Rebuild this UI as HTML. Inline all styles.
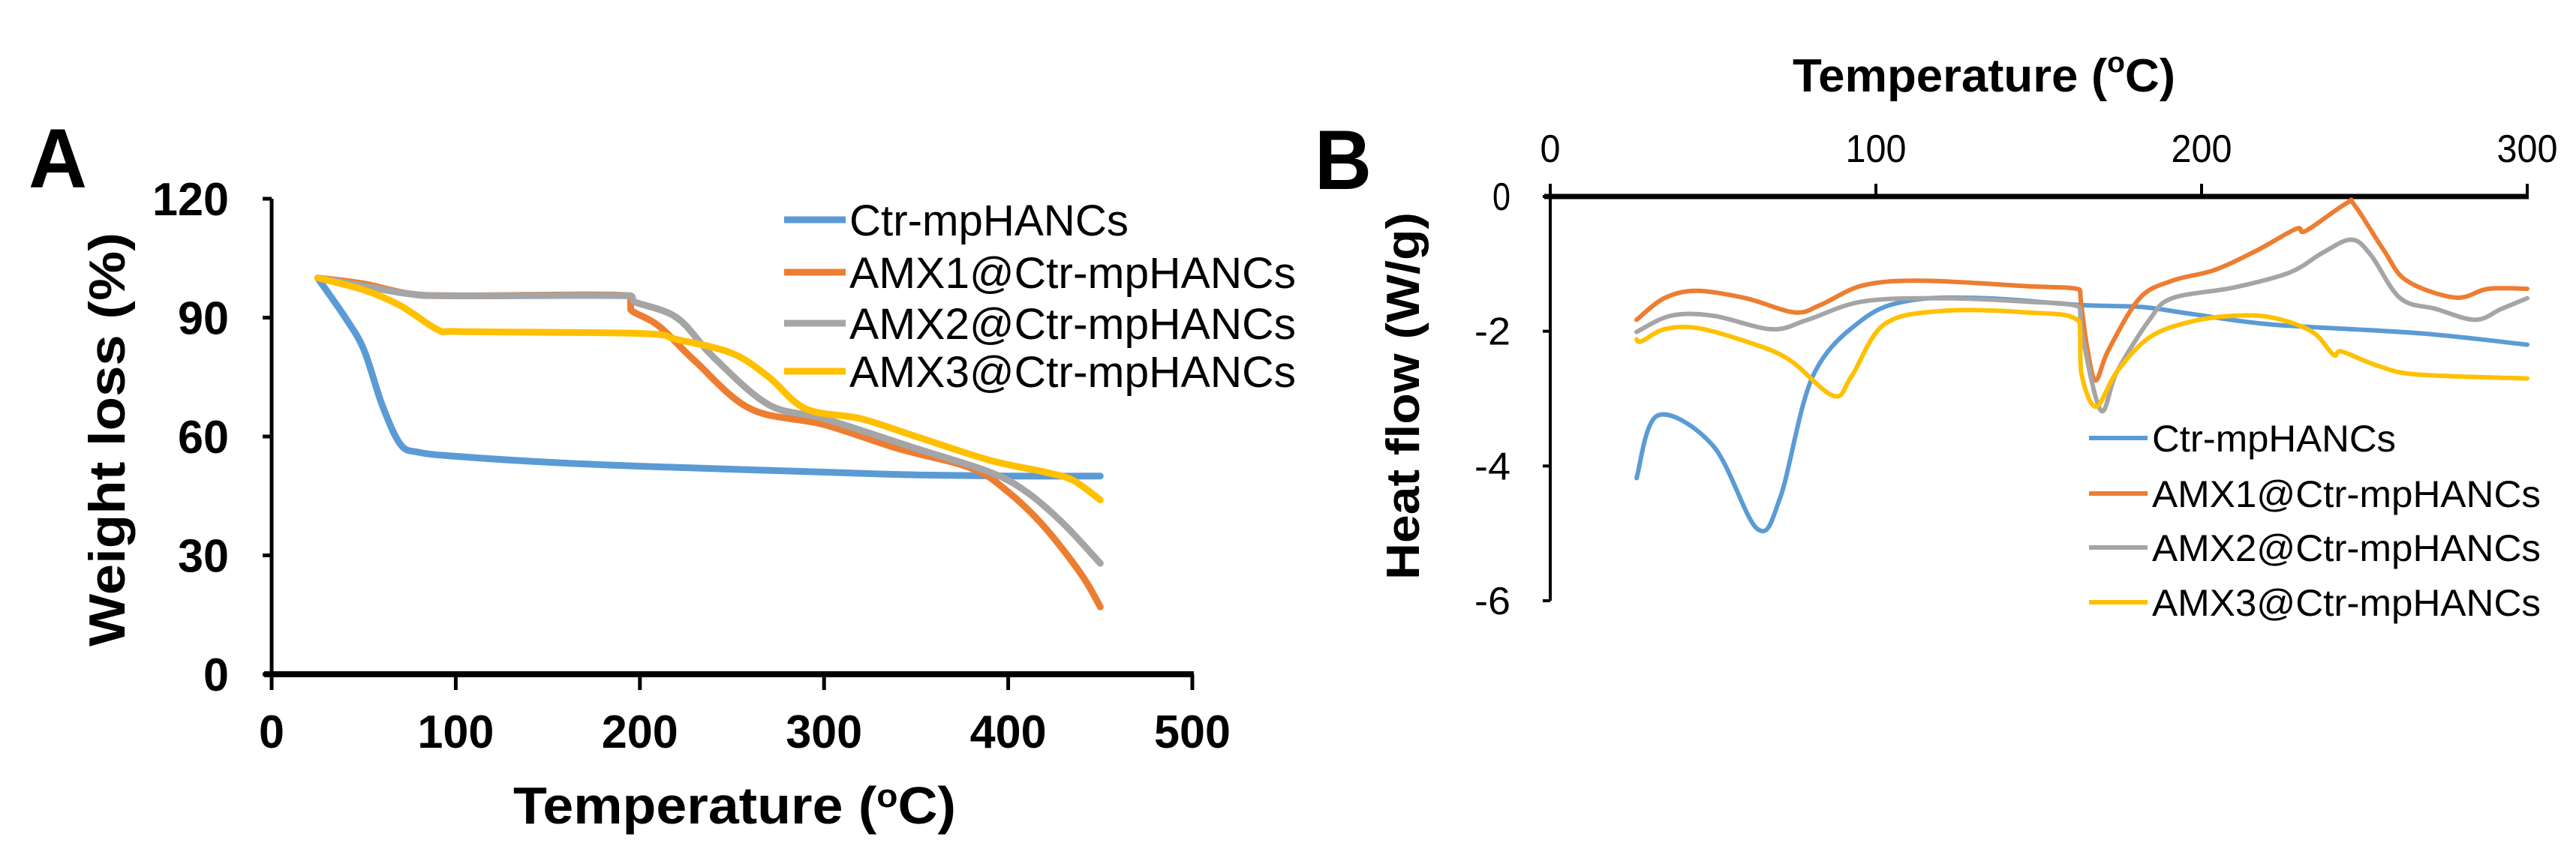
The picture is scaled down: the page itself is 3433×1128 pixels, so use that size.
<!DOCTYPE html>
<html><head><meta charset="utf-8"><style>
html,body{margin:0;padding:0;background:#fff;}
svg{display:block;}
</style></head><body>
<svg id="fig" width="3433" height="1128" viewBox="0 0 3433 1128" xmlns="http://www.w3.org/2000/svg" font-family="Liberation Sans, sans-serif">
<g id="panelA"></g>
<g id="panelB"></g>
</svg>
<script>
// ---------- Panel A data (TGA) ----------
const aXTicks = [0,100,200,300,400,500];
const aYTicks = [0,30,60,90,120];
const aSeriesNames = ["Ctr-mpHANCs","AMX1@Ctr-mpHANCs","AMX2@Ctr-mpHANCs","AMX3@Ctr-mpHANCs"];
const aCtrT = [25,40,50,60,70,80,100,150,200,300,350,400,450];
const aCtrW = [100,90,82,68,58,56,55,53.5,52.5,51,50.3,50,50];
const aAmx1T = [25,50,75,100,195,195,210,230,260,300,340,380,400,420,440,450];
const aAmx1W = [100,98.5,96,95.5,95.5,92,88,79,67,63,57,52,46,37,25,17];
const aAmx2T = [25,50,75,100,195,197,220,240,270,300,350,390,410,430,450];
const aAmx2W = [100,98,96,95.5,95.5,94,90,80,68,64.5,57,51,46,38,28];
const aAmx3T = [25,50,70,90,100,200,220,250,270,290,320,350,390,420,435,450];
const aAmx3W = [100,97,93,87,86.5,86,84.5,81,75,67,64.5,60,54,51,49,44];
// ---------- Panel B data (DSC) ----------
const bXTicks = [0,100,200,300];
const bYTicks = [0,-2,-4,-6];
const bCtrT = [26.5,33,50,63.5,70.6,80.6,95.8,110.9,133.6,162.5,181.5,196.5,221.7,267,300];
const bCtrH = [-4.18,-3.25,-3.7,-4.93,-4.47,-2.67,-1.83,-1.54,-1.51,-1.61,-1.64,-1.74,-1.9,-2.03,-2.2];
const bAmx1T = [26.5,35,45,60,75,83,96,114,146,162.5,163,165,167.5,171.4,181,191,204,217,229,232,244.5,247,256,263,278,288,300];
const bAmx1H = [-1.83,-1.51,-1.40,-1.51,-1.72,-1.61,-1.32,-1.25,-1.33,-1.38,-1.58,-2.28,-2.73,-2.28,-1.51,-1.25,-1.09,-0.80,-0.48,-0.51,-0.10,-0.13,-0.80,-1.25,-1.50,-1.37,-1.37];
const bAmx2T = [26.5,37,50,68,79,95.8,120,146,162.5,163,169,174,184,191,210,227,237,246,252,261,272,284,292,300];
const bAmx2H = [-2.01,-1.77,-1.77,-1.97,-1.83,-1.56,-1.51,-1.56,-1.64,-1.96,-3.17,-2.60,-1.83,-1.51,-1.35,-1.13,-0.84,-0.64,-0.87,-1.51,-1.67,-1.83,-1.67,-1.51];
const bAmx3T = [26.5,28,35,45,60,73,87,92.5,102.5,120,146,162.5,163,167.5,174,184,196.5,210,222,234,240.5,243,254,266,300];
const bAmx3H = [-2.12,-2.15,-1.97,-1.95,-2.15,-2.41,-2.96,-2.67,-1.90,-1.70,-1.72,-1.86,-2.60,-3.12,-2.60,-2.09,-1.86,-1.77,-1.80,-2.01,-2.35,-2.30,-2.51,-2.64,-2.70];

const colors = ["#5B9BD5","#ED7D31","#A5A5A5","#FFC000"];
const NS = "http://www.w3.org/2000/svg";
function mk(parent, tag, attrs, text){
  const e = document.createElementNS(NS, tag);
  for (const k in attrs) e.setAttribute(k, attrs[k]);
  if (text !== undefined) e.textContent = text;
  parent.appendChild(e);
  return e;
}
function smooth(P){
  let d = 'M'+P[0][0].toFixed(1)+','+P[0][1].toFixed(1);
  for (let i=0;i<P.length-1;i++){
    const p0=P[Math.max(0,i-1)], p1=P[i], p2=P[i+1], p3=P[Math.min(P.length-1,i+2)];
    const k=1/6;
    const c1=[p1[0]+(p2[0]-p0[0])*k, p1[1]+(p2[1]-p0[1])*k];
    const c2=[p2[0]-(p3[0]-p1[0])*k, p2[1]-(p3[1]-p1[1])*k];
    // clamp x to keep monotone
    c1[0]=Math.min(Math.max(c1[0],p1[0]),p2[0]); c2[0]=Math.min(Math.max(c2[0],p1[0]),p2[0]);
    d+=' C'+c1[0].toFixed(1)+','+c1[1].toFixed(1)+' '+c2[0].toFixed(1)+','+c2[1].toFixed(1)+' '+p2[0].toFixed(1)+','+p2[1].toFixed(1);
  }
  return d;
}
// ===== Panel A =====
const A = document.getElementById('panelA');
const ax = t => 362 + (t/500)*(1589-362);
const ay = v => 899 - (v/120)*(899-265);
let t;
t = mk(A,'text',{x:38,y:250,'font-size':112,'font-weight':'bold',textLength:78,lengthAdjust:'spacingAndGlyphs'},'A');
 
let axl = mk(A,'line',{x1:362,y1:265,x2:362,y2:903,stroke:'#000','stroke-width':5});
 
axl = mk(A,'line',{x1:352,y1:899,x2:1591,y2:899,stroke:'#000','stroke-width':8});
 
aYTicks.forEach(v=>{
  const l = mk(A,'line',{x1:350,y1:ay(v),x2:362,y2:ay(v),stroke:'#000','stroke-width':5});
   
  const s = String(v);
  const tx = mk(A,'text',{x:305,y:ay(v)+22,'font-size':62,'font-weight':'bold','text-anchor':'end',textLength:s.length*34,lengthAdjust:'spacingAndGlyphs'},s);
   
});
aXTicks.forEach(v=>{
  const l = mk(A,'line',{x1:ax(v),y1:899,x2:ax(v),y2:920,stroke:'#000','stroke-width':5});
   
  const s = String(v);
  const tx = mk(A,'text',{x:ax(v),y:997,'font-size':62,'font-weight':'bold','text-anchor':'middle',textLength:s.length*34,lengthAdjust:'spacingAndGlyphs'},s);
   
});
t = mk(A,'text',{x:684,y:1098,'font-size':70,'font-weight':'bold',textLength:590,lengthAdjust:'spacingAndGlyphs'});
t.innerHTML = 'Temperature (<tspan dy="-22" font-size="44">o</tspan><tspan dy="22">C)</tspan>';
 
t = mk(A,'text',{x:0,y:0,'font-size':68,'font-weight':'bold','text-anchor':'middle',textLength:552,lengthAdjust:'spacingAndGlyphs',transform:'translate(166,586) rotate(-90)'},'Weight loss (%)');
 
const aSeries = [[aCtrT,aCtrW],[aAmx1T,aAmx1W],[aAmx2T,aAmx2W],[aAmx3T,aAmx3W]];
const aNames = ['a-line-ctr','a-line-amx1','a-line-amx2','a-line-amx3'];
aSeries.forEach((s,i)=>{
  const P = s[0].map((x,j)=>[ax(x),ay(s[1][j])]);
  const p = mk(A,'path',{d:smooth(P),fill:'none',stroke:colors[i],'stroke-width':9,'stroke-linejoin':'round','stroke-linecap':'round'});
   
});
const aLegY = [293,363,431,495];
aSeriesNames.forEach((n,i)=>{
  const g = mk(A,'g',{});
   
  mk(g,'line',{x1:1045,y1:aLegY[i],x2:1127,y2:aLegY[i],stroke:colors[i],'stroke-width':9});
  mk(g,'text',{x:1132,y:aLegY[i]+21,'font-size':58,textLength:i===0?372:595,lengthAdjust:'spacingAndGlyphs'},n);
});
// ===== Panel B =====
const B = document.getElementById('panelB');
const bx = t => 2066 + (t/300)*(3368-2066);
const by = v => 262 + (-v/6)*(801-262);
t = mk(B,'text',{x:1752,y:252,'font-size':112,'font-weight':'bold',textLength:76,lengthAdjust:'spacingAndGlyphs'},'B');
 
axl = mk(B,'line',{x1:2066,y1:257,x2:2066,y2:801,stroke:'#000','stroke-width':4});
 
axl = mk(B,'line',{x1:2058,y1:262,x2:3370,y2:262,stroke:'#000','stroke-width':7});
 
bYTicks.forEach(v=>{
  const l = mk(B,'line',{x1:2056,y1:by(v),x2:2066,y2:by(v),stroke:'#000','stroke-width':4});
   
  const s = String(v);
  const tx = mk(B,'text',{x:2013,y:by(v)+18,'font-size':52,'text-anchor':'end',textLength:s.length*24,lengthAdjust:'spacingAndGlyphs'},s);
   
});
bXTicks.forEach(v=>{
  const l = mk(B,'line',{x1:bx(v),y1:245,x2:bx(v),y2:262,stroke:'#000','stroke-width':4});
   
  const s = String(v);
  const tx = mk(B,'text',{x:bx(v),y:216,'font-size':52,'text-anchor':'middle',textLength:s.length*27,lengthAdjust:'spacingAndGlyphs'},s);
   
});
t = mk(B,'text',{x:2389,y:122,'font-size':62,'font-weight':'bold',textLength:510,lengthAdjust:'spacingAndGlyphs'});
t.innerHTML = 'Temperature (<tspan dy="-26" font-size="38">o</tspan><tspan dy="26">C)</tspan>';
 
t = mk(B,'text',{x:0,y:0,'font-size':62,'font-weight':'bold','text-anchor':'middle',textLength:490,lengthAdjust:'spacingAndGlyphs',transform:'translate(1891,528) rotate(-90)'},'Heat flow (W/g)');
 
const bSeries = [[bCtrT,bCtrH],[bAmx1T,bAmx1H],[bAmx2T,bAmx2H],[bAmx3T,bAmx3H]];
const bNames = ['b-line-ctr','b-line-amx1','b-line-amx2','b-line-amx3'];
bSeries.forEach((s,i)=>{
  const P = s[0].map((x,j)=>[bx(x),by(s[1][j])]);
  const p = mk(B,'path',{d:smooth(P),fill:'none',stroke:colors[i],'stroke-width':6,'stroke-linejoin':'round','stroke-linecap':'round'});
   
});
const bLegY = [584,658,730,803];
aSeriesNames.forEach((n,i)=>{
  const g = mk(B,'g',{});
   
  mk(g,'line',{x1:2784,y1:bLegY[i],x2:2862,y2:bLegY[i],stroke:colors[i],'stroke-width':6});
  mk(g,'text',{x:2868,y:bLegY[i]+18,'font-size':50,textLength:i===0?325:518,lengthAdjust:'spacingAndGlyphs'},n);
});
</script>
</body></html>
